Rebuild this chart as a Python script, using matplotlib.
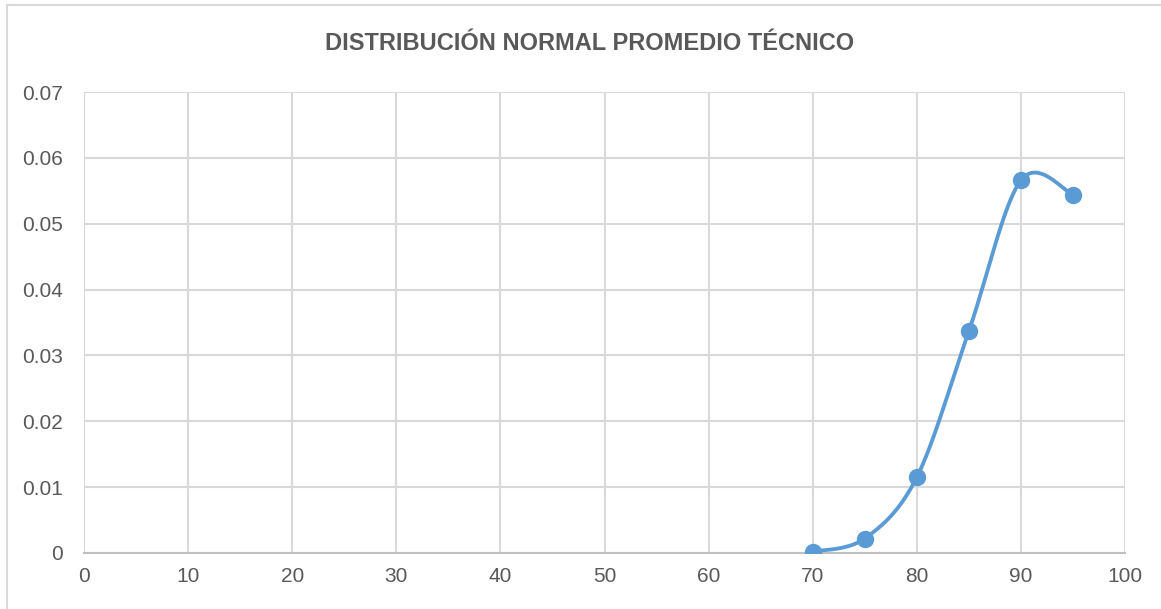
import numpy as np
import matplotlib
matplotlib.use("Agg")
import matplotlib.pyplot as plt
from matplotlib.patches import Rectangle

x_vals = [70, 75, 80, 85, 90, 95]
y_vals = [0.0002, 0.0022, 0.0115, 0.0337, 0.0566, 0.0544]
x_ticks = [0, 10, 20, 30, 40, 50, 60, 70, 80, 90, 100]
y_ticks = [0, 0.01, 0.02, 0.03, 0.04, 0.05, 0.06, 0.07]
y_tick_labels = ["0", "0.01", "0.02", "0.03", "0.04", "0.05", "0.06", "0.07"]
title = "DISTRIBUCIÓN NORMAL PROMEDIO TÉCNICO"

plt.rcParams['font.family'] = ['Liberation Sans Narrow', 'Liberation Sans', 'DejaVu Sans']

W, H = 1161, 609
fig = plt.figure(figsize=(W / 100, H / 100), dpi=100)
ax = fig.add_axes([84 / W, 1 - 553 / H, (1125 - 84) / W, (553 - 92) / H])

# chart border
fig.patches.append(Rectangle((7 / W, -0.05), 1.2, 1 - 5 / H + 0.05, transform=fig.transFigure,
                             fill=False, edgecolor='#D9D9D9', linewidth=1.5))

# Excel-like smoothed curve (cubic Bezier, Catmull-Rom style control points)
px = np.array(x_vals, dtype=float)
py = np.array(y_vals, dtype=float)
n = len(px)
cx, cy = [], []
t = np.linspace(0, 1, 40)
for i in range(n - 1):
    p0 = (px[max(i - 1, 0)], py[max(i - 1, 0)])
    p1 = (px[i], py[i])
    p2 = (px[i + 1], py[i + 1])
    p3 = (px[min(i + 2, n - 1)], py[min(i + 2, n - 1)])
    c1 = (p1[0] + (p2[0] - p0[0]) / 6, p1[1] + (p2[1] - p0[1]) / 6)
    c2 = (p2[0] - (p3[0] - p1[0]) / 6, p2[1] - (p3[1] - p1[1]) / 6)
    bx = (1 - t) ** 3 * p1[0] + 3 * (1 - t) ** 2 * t * c1[0] + 3 * (1 - t) * t ** 2 * c2[0] + t ** 3 * p2[0]
    by = (1 - t) ** 3 * p1[1] + 3 * (1 - t) ** 2 * t * c1[1] + 3 * (1 - t) * t ** 2 * c2[1] + t ** 3 * p2[1]
    cx.extend(bx)
    cy.extend(by)

color = '#5B9BD5'
ax.plot(cx, cy, color=color, linewidth=2.75, solid_capstyle='round', zorder=3)
ax.plot(px, py, 'o', color=color, markersize=11.5, zorder=4)

ax.set_xlim(0, 100)
ax.set_ylim(0, 0.07)
ax.set_xticks(x_ticks)
ax.set_yticks(y_ticks)
ax.set_yticklabels(y_tick_labels)
ax.grid(True, color='#D9D9D9', linewidth=1.5)
ax.set_axisbelow(True)
for s in ['top', 'right', 'left']:
    ax.spines[s].set_visible(False)
ax.spines['bottom'].set_color('#BFBFBF')
ax.spines['bottom'].set_linewidth(1.5)
ax.tick_params(length=0, labelsize=15, labelcolor='#595959', pad=10)
ax.tick_params(axis='y', pad=15)

fig.text(590 / W, 1 - 43 / H, title, ha='center', va='center', fontsize=17,
         fontweight='bold', color='#595959')

fig.savefig('out.png', dpi=100)
